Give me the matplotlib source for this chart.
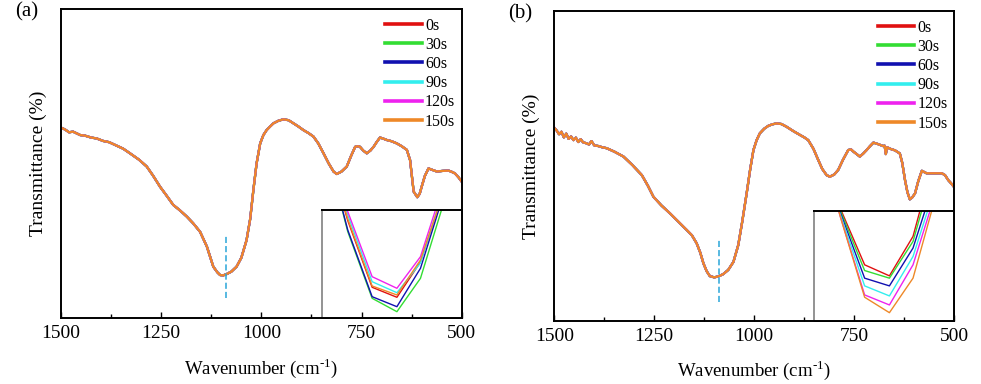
import matplotlib
matplotlib.use("Agg")
import matplotlib.pyplot as plt
from matplotlib.ticker import MultipleLocator

plt.rcParams['font.family'] = ['Liberation Serif', 'DejaVu Serif']
plt.rcParams['mathtext.fontset'] = 'custom'
plt.rcParams['mathtext.rm'] = 'Liberation Serif'

labels = ['0s', '30s', '60s', '90s', '120s', '150s']
colors = ['#e01010', '#33dd33', '#1010b0', '#33eeee', '#ee22ee', '#ee8828']

# panel (a) spectrum (arbitrary transmittance units)
wn_a = [1500, 1490, 1480, 1470, 1452, 1440, 1425, 1411, 1395, 1380, 1365, 1345, 1328,
        1305, 1286, 1270, 1253, 1236, 1220, 1203, 1186, 1170, 1153, 1136, 1120,
        1110, 1103, 1095, 1087, 1075, 1062, 1050, 1037, 1028, 1020, 1012, 1003,
        995, 987, 978, 970, 958, 945, 932, 920, 908, 895, 882, 870, 858, 845,
        832, 820, 812, 800, 787, 776, 766, 760, 754, 746, 737, 728, 720, 712,
        704, 695, 687, 675, 662, 650, 637, 629, 620, 611, 605, 600, 592, 583,
        575, 562, 548, 533, 525, 517, 508, 500]
T_a = [61.6, 61.0, 60.1, 60.3, 59.2, 59.0, 58.4, 58.1, 57.3, 56.9, 56.0, 54.8, 53.3,
       51.2, 49.0, 46.0, 42.5, 39.5, 36.6, 34.8, 32.8, 30.6, 27.9, 23.1, 16.6,
       14.8, 13.9, 13.8, 14.2, 15.0, 16.6, 19.5, 25.2, 32.0, 41.4, 50.0, 56.5,
       59.2, 60.8, 62.0, 63.0, 63.8, 64.3, 64.0, 63.0, 62.0, 60.8, 59.8, 58.7,
       56.5, 53.3, 50.0, 47.4, 46.6, 47.4, 49.0, 52.5, 55.4, 55.6, 55.4, 54.2,
       53.3, 54.2, 55.4, 57.0, 58.4, 58.0, 57.6, 57.2, 56.5, 55.6, 54.4, 51.1,
       40.9, 39.1, 40.2, 42.5, 46.0, 48.4, 48.0, 47.4, 47.6, 47.7, 47.3, 46.8,
       45.5, 44.1]

# panel (b) spectrum
wn_b = [1500, 1494, 1488, 1482, 1476, 1470, 1464, 1458, 1452, 1446, 1440, 1434, 1428,
        1420, 1413, 1407, 1400, 1390, 1380, 1369, 1350, 1327, 1305, 1281, 1266,
        1252, 1232, 1211, 1190, 1169, 1156, 1144, 1135, 1127, 1119, 1111, 1100,
        1090, 1078, 1065, 1052, 1040, 1030, 1019, 1010, 1002, 994, 986, 975,
        965, 955, 944, 932, 919, 902, 886, 875, 865, 852, 840, 830, 819, 811,
        800, 790, 778, 765, 758, 752, 744, 736, 728, 719, 711, 702, 690, 678,
        674, 671, 668, 660, 648, 636, 630, 623, 617, 611, 605, 598, 590, 581,
        575, 569, 550, 531, 523, 515, 508, 500]
T_b = [62.3, 61.4, 60.2, 61.0, 59.2, 60.4, 58.7, 59.5, 58.3, 59.1, 57.7, 58.6, 57.6,
       57.3, 56.9, 58.0, 56.6, 56.4, 56.0, 55.7, 54.6, 53.0, 50.3, 47.0, 43.6,
       40.0, 37.2, 34.7, 32.0, 29.3, 27.6, 25.0, 22.0, 18.5, 16.0, 14.4, 14.0,
       14.3, 15.0, 16.4, 19.0, 24.4, 32.0, 41.1, 49.0, 55.1, 58.3, 60.5, 62.0,
       62.9, 63.4, 63.7, 63.5, 62.6, 61.2, 60.0, 59.2, 58.3, 55.5, 51.9, 49.0,
       47.0, 46.5, 47.2, 48.7, 52.0, 55.1, 55.3, 54.6, 53.8, 53.0, 53.9, 55.1,
       56.3, 57.5, 57.0, 56.4, 56.5, 53.8, 56.0, 55.5, 55.0, 54.0, 51.0, 45.4,
       41.5, 39.2, 39.8, 41.1, 45.0, 48.4, 48.0, 47.6, 47.6, 47.6, 47.0, 45.4,
       44.4, 43.1]

# dashed marker at the band minimum
mark_a = 1088
mark_a_y = (6.5, 26.9)
mark_b = 1089
mark_b_y = (6.0, 26.4)

# magnified minimum (inset), one list per series
inset_x = [845, 785, 724, 662, 603, 542]
inset_a = [
    [180, 97.4, 30.7, 20.7, 56.0, 128.5],   # 0s
    [180, 86.4, 19.7, 6.3, 39.7, 119.0],    # 30s
    [180, 88.0, 21.3, 11.3, 49.7, 127.5],   # 60s
    [180, 103.0, 36.3, 25.3, 55.0, 132.4],  # 90s
    [180, 106.4, 41.3, 29.7, 61.3, 137.2],  # 120s
    [180, 99.0, 32.0, 23.0, 58.0, 129.8],   # 150s
]
inset_b = [
    [190, 112.0, 55.7, 44.7, 84.0, 174.0],
    [190, 110.0, 50.0, 42.4, 79.0, 165.0],
    [190, 108.0, 42.4, 34.7, 72.4, 148.0],
    [190, 106.0, 34.7, 24.7, 64.0, 140.0],
    [190, 104.0, 25.7, 15.7, 55.7, 133.0],
    [190, 104.0, 23.4, 8.0, 42.4, 130.0],
]

fig = plt.figure(figsize=(9.81, 3.84), dpi=100)
ax_a = fig.add_axes([0.0622, 0.1719, 0.4085, 0.8047])
ax_b = fig.add_axes([0.5650, 0.1648, 0.4077, 0.8066])
in_a = fig.add_axes([0.3280, 0.1719, 0.1426, 0.2813])
in_b = fig.add_axes([0.8300, 0.1648, 0.1427, 0.2849])


def style_main(ax, wn, T, mark, mark_y, tag):
    for lab, c in zip(labels, colors):
        ax.plot(wn, T, color=c, lw=1.6, label=lab)
    ax.plot([mark, mark], mark_y, color='#2aa6d8', lw=1.1, ls=(0, (4, 2)))
    ax.set_xlim(1500, 500)
    ax.set_ylim(0, 100)
    ax.set_yticks([])
    ax.xaxis.set_major_locator(MultipleLocator(250))
    ax.xaxis.set_minor_locator(MultipleLocator(125))
    ax.tick_params(axis='x', which='major', direction='in', length=4, width=1,
                   labelsize=14, pad=5)
    ax.tick_params(axis='x', which='minor', direction='in', length=3, width=1)
    for s in ax.spines.values():
        s.set_linewidth(1.4)
    ax.set_xlabel(r'Wavenumber (cm$^{\text{-1}}$)', fontsize=13.5, labelpad=10)
    ax.set_ylabel('Transmittance (%)', fontsize=14, labelpad=10)
    leg = ax.legend(loc='upper right', frameon=False, fontsize=11.5, handlelength=2.3,
                    handletextpad=0.2, labelspacing=0.2, borderaxespad=0.3,
                    bbox_to_anchor=(1.012, 1.008))
    for h in leg.get_lines():
        h.set_linewidth(2.6)
    ax.text(-0.115, 0.99, tag, transform=ax.transAxes, fontsize=15, va='center',
            ha='left')


def style_inset(ax, vals, ytop):
    for v, c in zip(vals, colors):
        ax.plot(inset_x, v, color=c, lw=1.0)
    ax.set_xlim(850, 500)
    ax.set_ylim(0, ytop)
    ax.set_yticks([])
    ax.set_xticks([750])
    ax.set_xticks([625], minor=True)
    ax.set_xticklabels([])
    ax.tick_params(axis='x', which='major', direction='in', length=4, width=1)
    ax.tick_params(axis='x', which='minor', direction='in', length=3, width=1)
    ax.spines['top'].set_linewidth(1.4)
    ax.spines['right'].set_linewidth(1.4)
    ax.spines['bottom'].set_linewidth(1.4)
    ax.spines['left'].set_color('#808080')
    ax.spines['left'].set_linewidth(1.2)


style_main(ax_a, wn_a, T_a, mark_a, mark_a_y, '(a)')
style_main(ax_b, wn_b, T_b, mark_b, mark_b_y, '(b)')
style_inset(in_a, inset_a, 108)
style_inset(in_b, inset_b, 109)

fig.savefig('out.png', dpi=100)
